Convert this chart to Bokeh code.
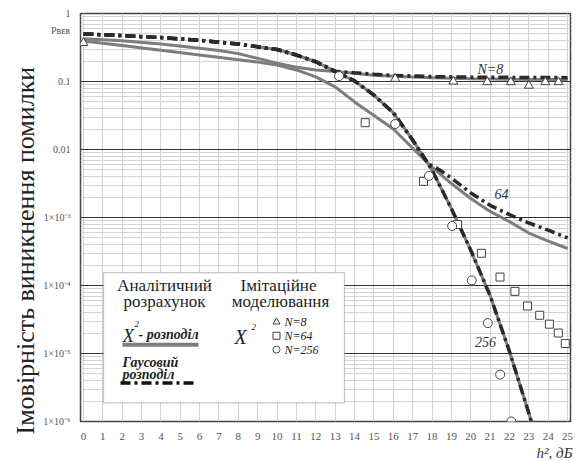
from bokeh.plotting import figure
from bokeh.models import Range1d, FixedTicker, Label, BoxAnnotation, Title
from bokeh.embed import file_html
from bokeh.resources import INLINE

# ---------------- data ----------------
x_ticks = list(range(0, 26))
y_ticks = [1e-6, 1e-5, 1e-4, 1e-3, 1e-2, 1e-1, 1]
y_tick_labels = ["1×10⁻⁶", "1×10⁻⁵", "1×10⁻⁴", "1×10⁻³", "0.01", "0.1", "1"]
y_name_pos = 0.56
y_name = "Pʙᴇʀ"

# Gaussian approximation (dash-dot)
x_gauss_256 = [0, 2, 4, 6, 8, 9, 10, 11, 12, 13, 14, 15, 16, 17, 18, 19, 20, 21, 22, 23, 23.5]
p_gauss_256 = [0.501, 0.473, 0.442, 0.403, 0.355, 0.324, 0.295, 0.245, 0.195, 0.141, 0.102,
               0.0631, 0.0347, 0.0138, 5.0e-3, 1.35e-3, 3.3e-4, 7.1e-5, 1.07e-5, 1.32e-6, 4.5e-7]
x_gauss_64 = [0, 2, 4, 6, 8, 9, 10, 11, 12, 13, 14, 15, 16, 17, 17.8, 18.4, 19, 20, 21, 22, 23, 24, 25]
p_gauss_64 = [0.501, 0.473, 0.442, 0.403, 0.355, 0.324, 0.295, 0.245, 0.195, 0.141, 0.102,
              0.0631, 0.0347, 0.0138, 6.2e-3, 5.0e-3, 3.8e-3, 2.3e-3, 1.51e-3, 1.10e-3, 8.3e-4, 6.5e-4, 5.0e-4]
x_gauss_8 = [0, 2, 4, 6, 8, 9, 10, 11, 12, 13, 14, 15, 16, 18, 20, 22, 25]
p_gauss_8 = [0.501, 0.473, 0.442, 0.403, 0.355, 0.324, 0.295, 0.245, 0.195, 0.141, 0.134,
             0.128, 0.123, 0.118, 0.116, 0.115, 0.114]

# chi-square distribution (solid grey)
x_chi_256 = [9, 10, 11, 12, 13, 14, 15, 16, 17, 18, 19, 20, 21, 22, 23, 23.5]
p_chi_256 = [0.324, 0.295, 0.245, 0.195, 0.141, 0.102, 0.0631, 0.0347, 0.0138, 5.0e-3,
             1.35e-3, 3.3e-4, 7.1e-5, 1.07e-5, 1.32e-6, 4.5e-7]
x_chi_64 = [0, 2, 4, 6, 8, 9, 10, 11, 12, 13, 14, 15, 16, 17, 18, 19, 20, 21, 22, 23, 24, 25]
p_chi_64 = [0.393, 0.339, 0.288, 0.245, 0.209, 0.193, 0.174, 0.148, 0.117, 0.0832, 0.0501,
            0.0316, 0.0200, 0.0105, 5.5e-3, 3.16e-3, 1.9e-3, 1.23e-3, 8.7e-4, 5.9e-4, 4.5e-4, 3.5e-4]
x_chi_8 = [0, 2, 4, 6, 7, 8, 9, 10, 11, 12, 13, 14, 15, 16, 17, 18, 20, 22, 25]
p_chi_8 = [0.426, 0.398, 0.355, 0.309, 0.285, 0.257, 0.219, 0.186, 0.162, 0.148, 0.140,
           0.132, 0.124, 0.119, 0.116, 0.114, 0.110, 0.108, 0.107]

# simulation (markers)
sim8_x = [0, 16.1, 19.1, 20.85, 22.07, 23.0, 23.85, 24.53]
sim8_p = [0.37, 0.110, 0.100, 0.098, 0.098, 0.087, 0.098, 0.098]
sim64_x = [14.55, 17.56, 19.32, 20.55, 21.51, 22.28, 22.93, 23.56, 24.06, 24.52, 24.88]
sim64_p = [0.0248, 3.4e-3, 7.9e-4, 2.98e-4, 1.33e-4, 8.2e-5, 5.0e-5, 3.65e-5, 2.7e-5, 2.0e-5, 1.4e-5]
sim256_x = [13.2, 16.1, 17.84, 19.04, 20.05, 20.88, 21.52, 22.09]
sim256_p = [0.12, 0.0237, 4.1e-3, 7.5e-4, 1.19e-4, 2.8e-5, 4.9e-6, 1.0e-6]

# ---------------- layout helpers ----------------
X0, X1 = -0.15, 25.15
FR_L, FR_W, FR_T, FR_H = 80.0, 490.0, 13.0, 414.0   # page pixels of the frame


def xd(px):
    return X0 + (px - FR_L) / FR_W * (X1 - X0)


def yd(py):
    return 10 ** (-(py - FR_T) / (FR_H / 6.0))


SERIF = "'Liberation Serif', 'Times New Roman', serif"
GREY = "#7d7d7d"
DARK = "#2a2a2a"
DASH = "10 4 3 4"

p = figure(width=576, height=460, output_backend="svg", toolbar_location=None,
           y_axis_type="log", x_range=Range1d(X0, X1), y_range=Range1d(1e-6, 1),
           min_border_left=80, min_border_right=6, min_border_top=13, min_border_bottom=33)
p.background_fill_color = "white"
p.border_fill_color = "white"
p.outline_line_color = "#444444"
p.outline_line_width = 1.5

minor = [m * 10.0 ** e for e in range(-6, 0) for m in range(2, 10)]
p.yaxis.ticker = FixedTicker(ticks=y_ticks + [y_name_pos])
p.yaxis.major_label_overrides = {t: s for t, s in zip(y_ticks + [y_name_pos], y_tick_labels + [y_name])}
p.ygrid.ticker = FixedTicker(ticks=y_ticks, minor_ticks=minor)
p.xaxis.ticker = FixedTicker(ticks=x_ticks)
for ax in (p.xaxis, p.yaxis):
    ax.axis_line_color = None
    ax.major_tick_line_color = None
    ax.minor_tick_line_color = None
    ax.major_label_text_font = SERIF
    ax.major_label_text_color = "#555555"
p.xaxis.major_label_text_font_size = "11px"
p.yaxis.major_label_text_font_size = "10px"
p.xaxis.major_label_standoff = 5
p.yaxis.major_label_standoff = 4

p.ygrid.grid_line_color = "#333333"
p.ygrid.grid_line_width = 1
p.ygrid.minor_grid_line_color = "#d4d4d4"
p.xgrid.grid_line_color = "#d4d4d4"

# axis titles as side-panel titles (not clipped)
p.add_layout(Title(text="Імовірність виникнення помилки", align="left", offset=-13,
                   text_font=SERIF, text_font_size="26px", text_font_style="normal",
                   text_color="#222222", standoff=2), "left")
p.add_layout(Title(text="h², дБ", align="right", offset=-2, text_font=SERIF,
                   text_font_size="15px", text_font_style="italic", text_color="#333333",
                   standoff=0), "below")

# solid chi-square curves
for xs, ys in ((x_chi_8, p_chi_8), (x_chi_64, p_chi_64), (x_chi_256, p_chi_256)):
    p.line(xs, ys, line_color=GREY, line_width=3)
# dash-dot Gaussian curves
for xs, ys in ((x_gauss_8, p_gauss_8), (x_gauss_64, p_gauss_64), (x_gauss_256, p_gauss_256)):
    p.line(xs, ys, line_color=DARK, line_width=3.5, line_dash=DASH)

# simulation markers
p.scatter(sim8_x, sim8_p, marker="triangle", size=9, line_color="#444444", fill_color="white", line_width=1)
p.scatter(sim64_x, sim64_p, marker="square", size=8, line_color="#444444", fill_color="white", line_width=1)
p.scatter(sim256_x, sim256_p, marker="circle", size=9, line_color="#444444", fill_color="white", line_width=1)


def text(txt, px, py, size, style="normal", align="left", color="#222222", angle=0):
    p.add_layout(Label(x=xd(px), y=yd(py), text=txt, text_font=SERIF, text_font_size=f"{size}px",
                       text_font_style=style, text_align=align, text_baseline="middle",
                       text_color=color, angle=angle, angle_units="deg"))


# curve labels
text("N=8", 477, 70, 14, style="italic", color="#333333")
text("64", 501, 196, 14, style="italic", align="center", color="#333333")
text("256", 485, 346, 14, style="italic", align="center", color="#333333")

# legend box
p.add_layout(BoxAnnotation(left=xd(103), right=xd(344), top=yd(276), bottom=yd(408),
                           fill_color="white", fill_alpha=1.0, line_color="#444444", line_width=1.2))
text("Аналітичний", 164, 289, 17, align="center")
text("розрахунок", 164, 305, 17, align="center")
text("Імітаційне", 278, 289, 17, align="center")
text("моделювання", 280, 305, 17, align="center")
text("X", 122, 340, 19, style="italic")
text("2", 134, 328, 9, style="italic")
text("- розподіл", 138, 339, 14, style="bold italic")
text("Гаусовий", 122, 367, 14, style="bold italic")
text("розподіл", 122, 379, 14, style="bold italic")
text("X", 234, 341, 20, style="italic")
text("2", 251, 331, 9, style="italic")
text("N=8", 284, 326, 12, style="italic")
text("N=64", 284, 340, 12, style="italic")
text("N=256", 284, 354, 12, style="italic")

# legend samples
p.line([xd(122), xd(198)], [yd(349), yd(349)], line_color=GREY, line_width=4, level="overlay")
p.line([xd(120), xd(193)], [yd(388), yd(388)], line_color="#111111", line_width=3.5,
       line_dash=DASH, level="overlay")
p.scatter([xd(276)], [yd(326)], marker="triangle", size=7, line_color="#444444", fill_color="white", level="overlay")
p.scatter([xd(276)], [yd(340)], marker="square", size=7, line_color="#444444", fill_color="white", level="overlay")
p.scatter([xd(276)], [yd(354)], marker="circle", size=7, line_color="#444444", fill_color="white", level="overlay")

open("out.html", "w").write(file_html(p, INLINE))
